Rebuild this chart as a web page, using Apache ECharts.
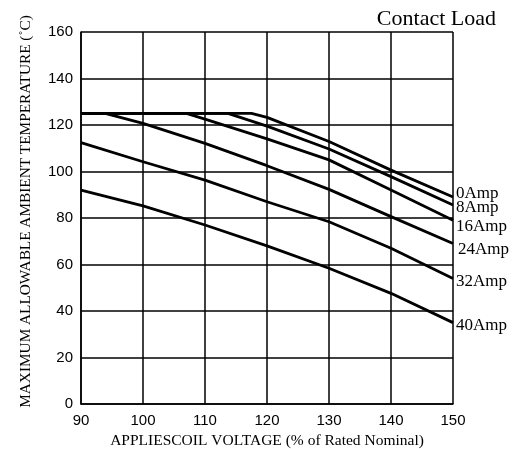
<!DOCTYPE html>
<html>
<head>
<meta charset="utf-8">
<script src="https://cdn.jsdelivr.net/npm/echarts@6/dist/echarts.min.js"></script>
<style>
html,body{margin:0;padding:0;background:#fff;}
#chart{width:521px;height:449px;}
</style>
</head>
<body>
<div id="chart"></div>
<script>
// Data (x = applied coil voltage %, y = max ambient temperature °C)
const xTicks = [90, 100, 110, 120, 130, 140, 150];
const yTicks = [0, 20, 40, 60, 80, 100, 120, 140, 160];
const seriesNames = ['0Amp', '8Amp', '16Amp', '24Amp', '32Amp', '40Amp'];
const amp0  = [[90,125],[117.5,125],[120,123.3],[130,112.9],[140,100.6],[150,89]];
const amp8  = [[90,125],[113.7,125],[120,119.5],[130,109.7],[140,97.8],[150,85.6]];
const amp16 = [[90,125],[107,125],[110,122.5],[120,114],[130,105],[140,92],[150,79]];
const amp24 = [[90,125],[93.9,125],[100,120.7],[110,112.1],[120,102.5],[130,92.3],[140,80.6],[150,69]];
const amp32 = [[90,112.4],[100,104.2],[110,96.3],[120,87],[130,78.4],[140,67],[150,54]];
const amp40 = [[90,92],[100,85.2],[110,77],[120,68],[130,58.4],[140,47.6],[150,35]];
const allData = [amp0, amp8, amp16, amp24, amp32, amp40];
const labelOffsets = [[0,-4],[0,3],[0,6],[2,6],[0,3],[0,3]];

const serif = 'Liberation Serif';
const sans = 'Liberation Sans';

const chart = echarts.init(document.getElementById('chart'));
chart.setOption({
  animation: false,
  backgroundColor: '#fff',
  title: {
    text: 'Contact Load',
    right: 20,
    top: 3,
    textStyle: {fontFamily: serif, fontWeight: 'normal', fontSize: 22, color: '#000'}
  },
  grid: {left: 81, right: 68, top: 32, bottom: 45, outerBoundsMode: 'none', containLabel: false},
  xAxis: {
    type: 'value',
    min: xTicks[0],
    max: xTicks[xTicks.length - 1],
    interval: 10,
    name: 'APPLIESCOIL VOLTAGE (% of Rated Nominal)',
    nameLocation: 'middle',
    nameGap: 28,
    nameTextStyle: {fontFamily: serif, fontSize: 15.5, color: '#000'},
    axisLine: {lineStyle: {color: '#000', width: 1.5}},
    axisTick: {show: false},
    axisLabel: {fontFamily: sans, fontSize: 15, color: '#000', margin: 9},
    splitLine: {show: true, lineStyle: {color: '#000', width: 1.5}}
  },
  yAxis: {
    type: 'value',
    min: yTicks[0],
    max: yTicks[yTicks.length - 1],
    interval: 20,
    name: 'MAXIMUM ALLOWABLE AMBIENT TEMPERATURE (˚C)',
    nameLocation: 'middle',
    nameGap: 48,
    nameTextStyle: {fontFamily: serif, fontSize: 15.3, color: '#000', padding: [0, 0, 0, 13]},
    axisLine: {show: true, lineStyle: {color: '#000', width: 1.5}},
    axisTick: {show: false},
    axisLabel: {fontFamily: sans, fontSize: 15, color: '#000', margin: 8},
    splitLine: {show: true, lineStyle: {color: '#000', width: 1.5}}
  },
  series: seriesNames.map((name, i) => ({
    name: name,
    type: 'line',
    data: allData[i],
    showSymbol: false,
    symbol: 'none',
    lineStyle: {color: '#000', width: 2.8},
    endLabel: {
      show: true,
      formatter: '{a}',
      fontFamily: serif,
      fontSize: 17,
      color: '#000',
      distance: 3,
      offset: labelOffsets[i]
    }
  }))
});
</script>
</body>
</html>
